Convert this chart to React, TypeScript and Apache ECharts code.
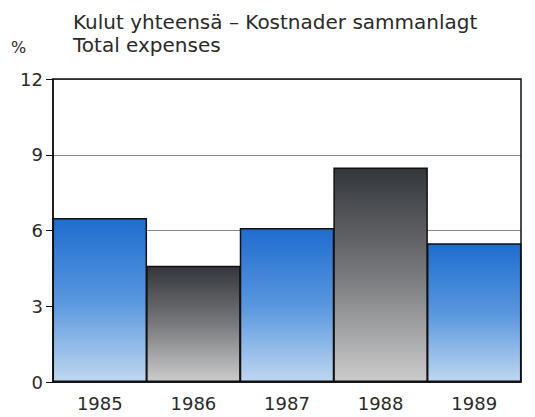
import React, { useEffect, useRef } from "react";
import * as echarts from "echarts";

const years = ["1985", "1986", "1987", "1988", "1989"];
const values = [6.5, 4.6, 6.1, 8.5, 5.5];
const yTicks = [0, 3, 6, 9, 12];
const titleLine1 = "Kulut yhteensä – Kostnader sammanlagt";
const titleLine2 = "Total expenses";
const unitLabel = "%";

const FONT = "'DejaVu Sans', Arial, sans-serif";

const blueGrad = () =>
  new echarts.graphic.LinearGradient(0, 0, 0, 1, [
    { offset: 0, color: "#1e6dcf" },
    { offset: 0.5, color: "#5896de" },
    { offset: 1, color: "#bed7f0" },
  ]);
const grayGrad = () =>
  new echarts.graphic.LinearGradient(0, 0, 0, 1, [
    { offset: 0, color: "#33363b" },
    { offset: 0.5, color: "#77797c" },
    { offset: 1, color: "#cbcbcb" },
  ]);

export default function App() {
  const ref = useRef<HTMLDivElement>(null);
  useEffect(() => {
    if (!ref.current) return;
    const chart = echarts.init(ref.current, null, { renderer: "svg" });
    chart.setOption({
      animation: false,
      backgroundColor: "#ffffff",
      grid: {
        left: 53,
        right: 14,
        top: 79,
        bottom: 35,
        show: true,
        borderColor: "#111",
        borderWidth: 1.5,
        backgroundColor: "transparent",
        z: 5,
      },
      graphic: [
        {
          type: "text",
          left: 73,
          top: 12,
          style: { text: titleLine1, font: `20px ${FONT}`, fill: "#2a2a2a" },
        },
        {
          type: "text",
          left: 73,
          top: 35,
          style: { text: titleLine2, font: `20px ${FONT}`, fill: "#2a2a2a" },
        },
        {
          type: "text",
          left: 11,
          top: 39,
          style: { text: unitLabel, font: `16px ${FONT}`, fill: "#2a2a2a" },
        },
      ],
      xAxis: {
        type: "category",
        data: years,
        axisLine: { lineStyle: { color: "#111", width: 1.5 } },
        axisTick: { show: false },
        axisLabel: {
          color: "#2a2a2a",
          fontFamily: FONT,
          fontSize: 18,
          margin: 12,
        },
      },
      yAxis: {
        type: "value",
        min: 0,
        max: 12,
        interval: 3,
        axisLine: { show: true, lineStyle: { color: "#111", width: 1.5 } },
        axisTick: { show: true, length: 7, lineStyle: { color: "#111" } },
        axisLabel: {
          color: "#2a2a2a",
          fontFamily: FONT,
          fontSize: 18,
          margin: 10,
          formatter: (v: number) => (yTicks.includes(v) ? String(v) : ""),
        },
        splitLine: { show: true, lineStyle: { color: "#8a8a8a", width: 1.2 } },
      },
      series: [
        {
          type: "bar",
          barCategoryGap: "0%",
          barWidth: 94.5,
          data: values.map((v, i) => ({
            value: v,
            itemStyle: {
              color: i % 2 === 0 ? blueGrad() : grayGrad(),
              borderColor: "#111",
              borderWidth: 1.5,
            },
          })),
        },
      ],
    });
    return () => chart.dispose();
  }, []);
  return (
    <div
      ref={ref}
      style={{ position: "fixed", left: 0, top: 0, width: 535, height: 417 }}
    />
  );
}
